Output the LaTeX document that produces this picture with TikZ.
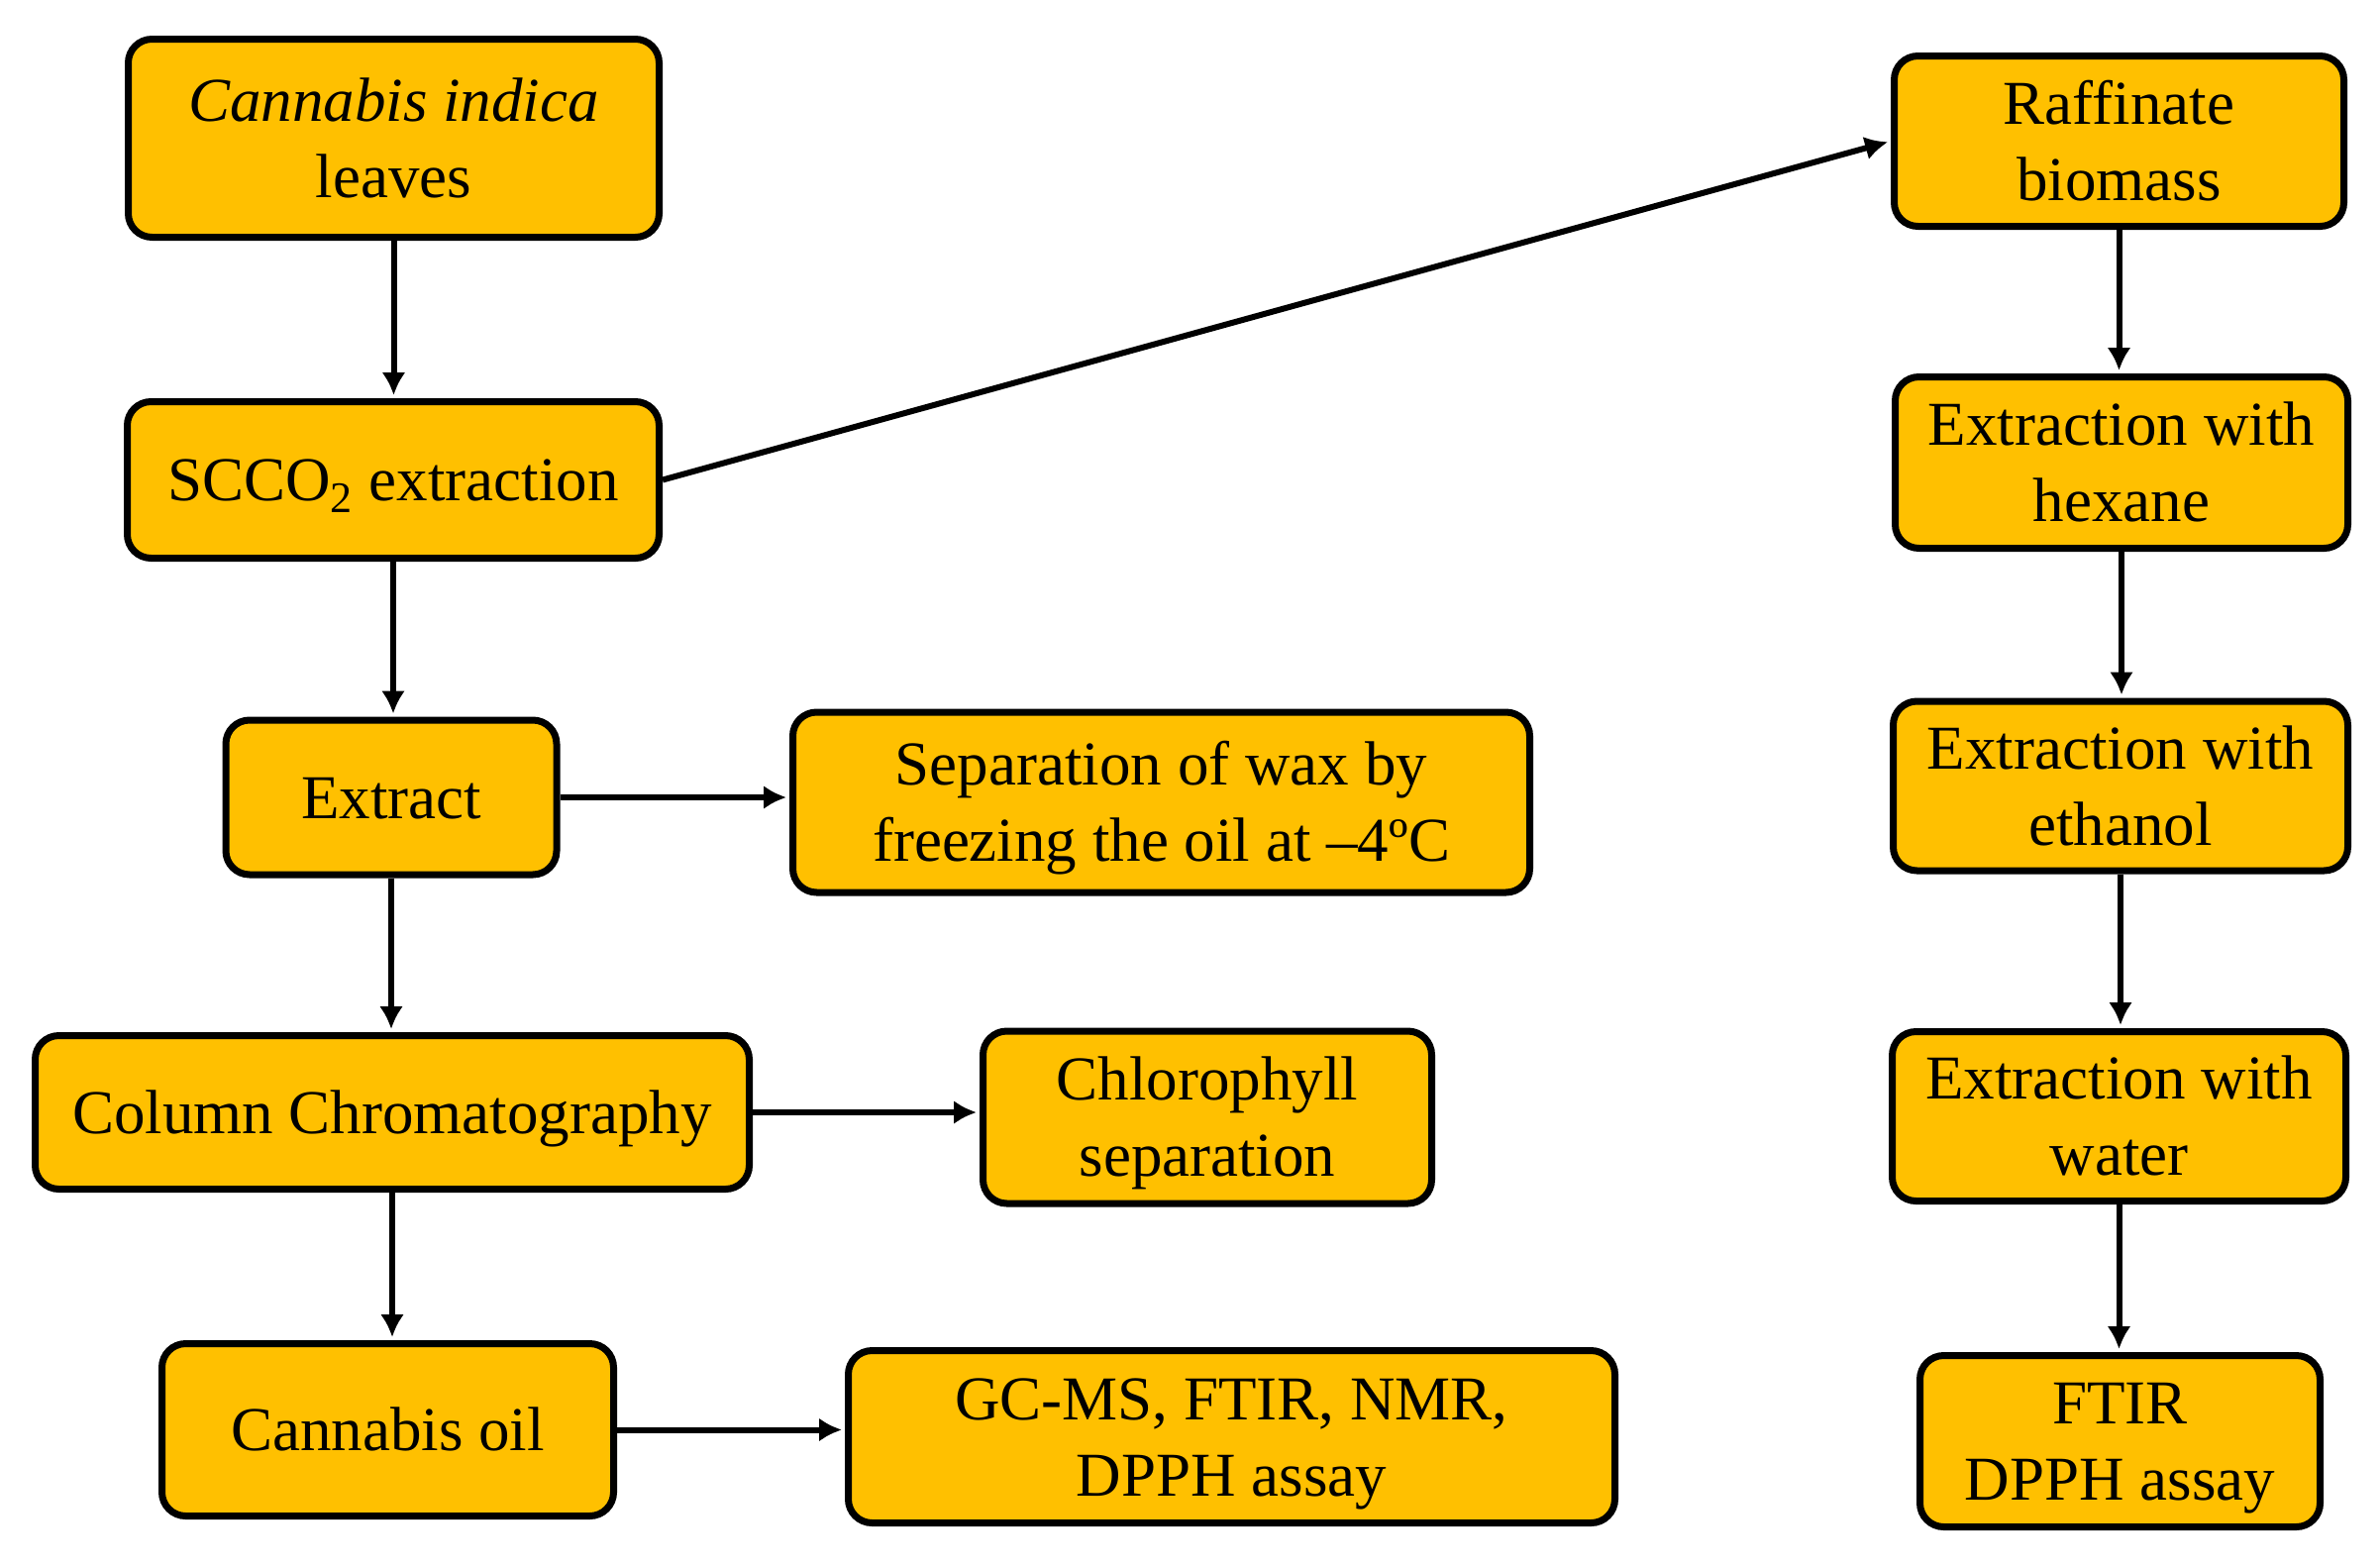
\documentclass[tikz,border=0pt]{standalone}
\usepackage{fontspec}
\setmainfont{Liberation Serif}
\usetikzlibrary{arrows.meta}
\definecolor{boxgold}{HTML}{FFC000}
\newcommand\pptop{\rule{0pt}{0.891em}}
\newcommand\ppbot{\rule[-0.216em]{0pt}{0pt}}
\tikzset{
  box/.style={draw=black, fill=boxgold, line width=3.5pt, rounded corners=12pt,
    align=center, inner sep=0pt,
    font=\fontsize{31.5pt}{38.5pt}\selectfont},
  flow/.style={draw=black, line width=3pt, shorten >=1.5pt,
    -{Latex[length=11.5pt,width=12pt]}}
}
\begin{document}
\begin{tikzpicture}[x=0.5pt,y=-0.5pt]
\useasboundingbox (0,0) rectangle (2403,1580);
\node[box, minimum width=268pt, minimum height=100pt] (n1) at (397.5,139.5) {\pptop\textit{Cannabis indica}\\leaves\ppbot};
\node[box, minimum width=268.5pt, minimum height=79pt] (n2) at (397,484.5) {\pptop SCCO\textsubscript{2} extraction\ppbot};
\node[box, minimum width=167pt, minimum height=78pt] (n3) at (395,805) {\pptop Extract\ppbot};
\node[box, minimum width=372pt, minimum height=91pt] (n4) at (1172.5,810) {\pptop Separation of wax by\\freezing the oil at –4ºC\ppbot};
\node[box, minimum width=360.5pt, minimum height=77.5pt] (n5) at (396,1123) {\pptop Column Chromatography\ppbot};
\node[box, minimum width=226.5pt, minimum height=87pt] (n6) at (1219,1128) {\pptop Chlorophyll\\separation\ppbot};
\node[box, minimum width=228pt, minimum height=87pt] (n7) at (391.5,1443.5) {\pptop Cannabis oil\ppbot};
\node[box, minimum width=387pt, minimum height=87pt] (n8) at (1243.5,1450.5) {\pptop GC-MS, FTIR, NMR,\\DPPH assay\ppbot};
\node[box, minimum width=227pt, minimum height=86pt] (r1) at (2139.5,142.5) {\pptop Raffinate\\biomass\ppbot};
\node[box, minimum width=228.5pt, minimum height=86.5pt] (r2) at (2142,467) {\pptop Extraction with\\hexane\ppbot};
\node[box, minimum width=229.5pt, minimum height=85.5pt] (r3) at (2141,793.5) {\pptop Extraction with\\ethanol\ppbot};
\node[box, minimum width=229pt, minimum height=85.5pt] (r4) at (2139.5,1127) {\pptop Extraction with\\water\ppbot};
\node[box, minimum width=202pt, minimum height=86.5pt] (r5) at (2140.5,1455) {\pptop FTIR\\DPPH assay\ppbot};

\draw[flow] (n1.south) -- (n1.south |- n2.north);
\draw[flow] (n2.south) -- (n2.south |- n3.north);
\draw[flow] (n3.south) -- (n3.south |- n5.north);
\draw[flow] (n5.south) -- (n5.south |- n7.north);
\draw[flow] (n3.east) -- (n3.east -| n4.west);
\draw[flow] (n5.east) -- (n5.east -| n6.west);
\draw[flow] (n7.east) -- (n7.east -| n8.west);
\draw[flow] (n2.east) -- (r1.west);
\draw[flow] (r1.south) -- (r1.south |- r2.north);
\draw[flow] (r2.south) -- (r2.south |- r3.north);
\draw[flow] (r3.south) -- (r3.south |- r4.north);
\draw[flow] (r4.south) -- (r4.south |- r5.north);
\end{tikzpicture}
\end{document}
